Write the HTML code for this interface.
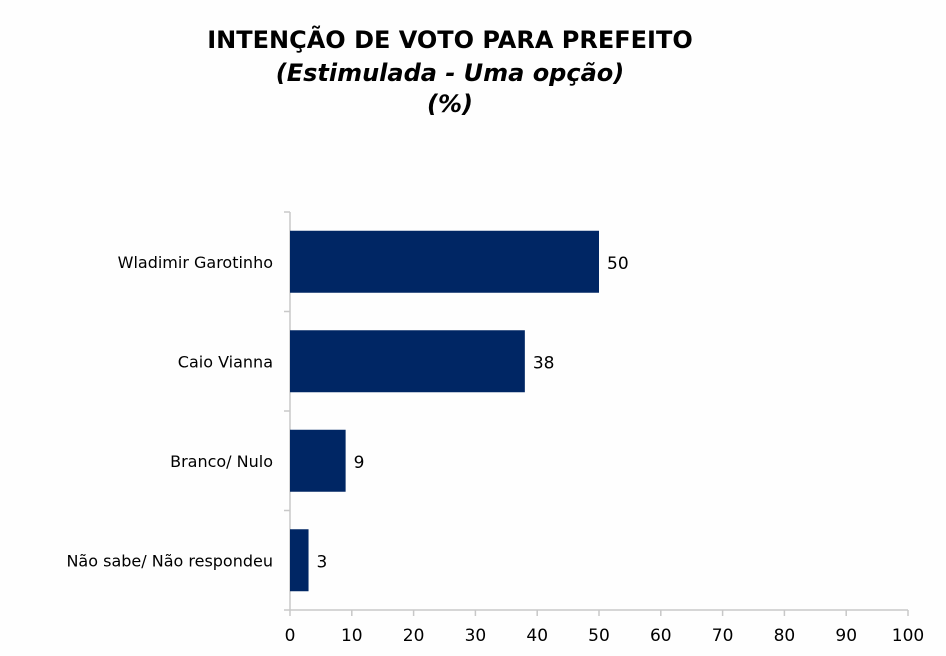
<!DOCTYPE html>
<html><head><meta charset="utf-8">
<style>
html,body{margin:0;padding:0;background:#fefefe;}
body{width:946px;height:656px;overflow:hidden;font-family:"DejaVu Sans","Liberation Sans",sans-serif;}
.t{position:absolute;left:0;width:900px;text-align:center;font-weight:bold;color:#000;}
</style></head>
<body>
<div class="t" style="top:26px;font-size:24px;">INTENÇÃO DE VOTO PARA PREFEITO</div>
<div class="t" style="top:59px;font-size:24px;font-style:italic;">(Estimulada - Uma opção)</div>
<div class="t" style="top:90px;font-size:24px;font-style:italic;">(%)</div>
<svg id="chart" width="946" height="656" style="position:absolute;left:0;top:0"></svg>
<script>
const categories=["Wladimir Garotinho","Caio Vianna","Branco/ Nulo","Não sabe/ Não respondeu"];
const values=[50,38,9,3];
const xTicks=[0,10,20,30,40,50,60,70,80,90,100];
const NS="http://www.w3.org/2000/svg";
const svg=document.getElementById('chart');
const x0=290,x1=908,yTop=212,yBot=610;
const xs=v=>x0+(v-0)/(100-0)*(x1-x0);
const band=(yBot-yTop)/categories.length;
function mk(t,a){const e=document.createElementNS(NS,t);for(const k in a)e.setAttribute(k,a[k]);svg.appendChild(e);return e;}
const ya=mk('line',{x1:x0,y1:yTop,x2:x0,y2:yBot,stroke:'#c8c8c8','stroke-width':1.5});


const xa=mk('line',{x1:x0-6,y1:yBot,x2:x1,y2:yBot,stroke:'#c8c8c8','stroke-width':1.5});


for(let i=0;i<categories.length;i++){
  const yt=yTop+i*band;
  const tk=mk('line',{x1:x0-6,y1:yt,x2:x0,y2:yt,stroke:'#c8c8c8','stroke-width':1.5});
  
  
  const cy=yt+band/2;
  const bh=62;
  const r=mk('rect',{x:x0,y:cy-bh/2,width:xs(values[i])-x0,height:bh,fill:'#002664'});
  
  
  const lbl=mk('text',{x:273,y:cy+6,'text-anchor':'end','font-size':16,fill:'#000','font-family':'DejaVu Sans, Liberation Sans, sans-serif'});
  lbl.textContent=categories[i];
  
  
  const vl=mk('text',{x:xs(values[i])+8,y:cy+7,'font-size':17,fill:'#000','font-family':'DejaVu Sans, Liberation Sans, sans-serif'});
  vl.textContent=values[i];
  
  
}
for(const t of xTicks){
  const xx=xs(t);
  const tk=mk('line',{x1:xx,y1:yBot,x2:xx,y2:yBot+6,stroke:'#c8c8c8','stroke-width':1.5});
  
  
  const tl=mk('text',{x:xx,y:yBot+31,'text-anchor':'middle','font-size':17,fill:'#000','font-family':'DejaVu Sans, Liberation Sans, sans-serif'});
  tl.textContent=t;
  
  
}
</script>
</body></html>
